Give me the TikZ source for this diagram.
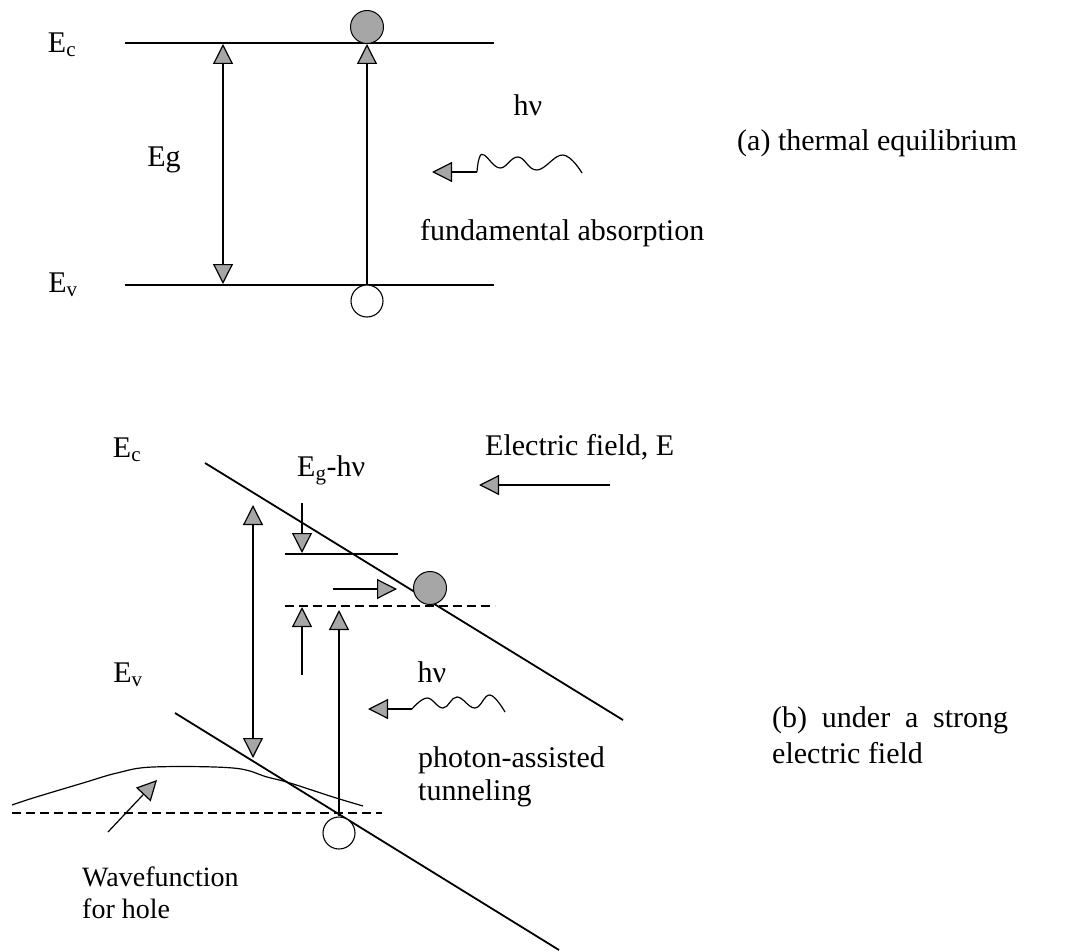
\documentclass[tikz,border=0pt]{standalone}
\usepackage{fontspec}
\setmainfont{Liberation Serif}
\usetikzlibrary{arrows.meta}
\tikzset{
  band/.style={line width=1.8pt, black},
  thin/.style={line width=1.2pt, black},
  tri/.style={-{Triangle[width=20pt,length=20pt,fill=gray!70]}},
  dtri/.style={{Triangle[width=20pt,length=20pt,fill=gray!70]}-{Triangle[width=20pt,length=20pt,fill=gray!70]}},
  txt/.style={font=\fontsize{30}{34}\selectfont, inner sep=0pt},
  stxt/.style={font=\fontsize{28}{32}\selectfont, inner sep=0pt},
  elec/.style={circle, draw=black, line width=1pt, fill=gray!70, minimum size=33pt, inner sep=0pt},
  hole/.style={circle, draw=black, line width=1.1pt, fill=white, minimum size=32pt, inner sep=0pt},
  dashline/.style={line width=1.2pt, dash pattern=on 9pt off 5pt}
}
\begin{document}
\begin{tikzpicture}[x=1pt,y=-1pt]
\useasboundingbox (0,0) rectangle (1073,952);
% ---------------- (a) ----------------
\coordinate (ecL) at (125,43);  \coordinate (ecR) at (494,43);
\coordinate (evL) at (125,285); \coordinate (evR) at (494,285);
\draw[band] (ecL) -- (ecR);
\draw[band] (evL) -- (evR);
\node[txt] (lEc) at (62,45) {E\textsubscript{c}};
\node[txt] (lEv) at (63,285) {E\textsubscript{v}};
\coordinate (egT) at (223,44); \coordinate (egB) at (223,284);
\draw[thin,dtri] (egB) -- (egT);
\node[txt] (lEg) at (164,160) {Eg};
\node[elec] (e1) at (367,27) {};
\node[hole] (h1) at (367,301) {};
\draw[thin,tri] (h1.north) -- (e1.south);
\node[txt] (hv1) at (528,105) {hν};
\coordinate (w1tip) at (432,172);
\draw[thin,tri] (477,172) -- (w1tip);
\draw[thin] plot[smooth, tension=0.7] coordinates {(477,172) (479,159) (484,155) (500,168) (518,157) (537,170) (563,155) (582,173)};
\node[txt, anchor=west] (fa) at (420,233) {fundamental absorption};
\node[txt, anchor=west] (capa) at (737,143) {(a) thermal equilibrium};
% ---------------- (b) ----------------
\node[txt] (lEc2) at (127,450) {E\textsubscript{c}};
\node[txt] (lEv2) at (128,675) {E\textsubscript{v}};
\coordinate (c1) at (205,463); \coordinate (c2) at (623,720);
\coordinate (v1) at (175,713); \coordinate (v2) at (559,950);
\draw[band] (c1) -- (c2);
\draw[band] (v1) -- (v2);
\node[txt, anchor=west] (egh) at (297,470) {E\textsubscript{g}-hν};
\node[txt, anchor=west] (ef) at (485,447) {Electric field, E};
\coordinate (efR) at (610,485); \coordinate (efL) at (479,485);
\draw[thin,tri] (efR) -- (efL);
\coordinate (dT) at (253,505); \coordinate (dB) at (253,758);
\draw[thin,dtri] (dB) -- (dT);
\coordinate (sdT) at (302,503); \coordinate (sdB) at (302,553);
\draw[thin,tri] (sdT) -- (sdB);
\coordinate (hlL) at (285,554); \coordinate (hlR) at (398,554);
\draw[thin] (hlL) -- (hlR);
\coordinate (haL) at (333,589); \coordinate (haR) at (397,589);
\draw[thin,tri] (haL) -- (haR);
\node[elec] (e2) at (430,588) {};
\coordinate (dlL) at (285,606); \coordinate (dlR) at (495,606);
\draw[dashline] (dlL) -- (dlR);
\coordinate (suB) at (302,675); \coordinate (suT) at (302,607);
\draw[thin,tri] (suB) -- (suT);
\node[hole] (h2) at (339,833) {};
\coordinate (abT) at (339,610);
\draw[thin,tri] (h2.north) -- (abT);
\node[txt] (hv2) at (432,672) {hν};
\coordinate (w2tip) at (368,709);
\draw[thin,tri] (412,709) -- (w2tip);
\draw[thin] plot[smooth, tension=0.7] coordinates {(412,709) (427,698) (443,708) (457,697) (475,708) (490,695) (505,712)};
\node[txt, anchor=west] (pa1) at (418,760) {photon-assisted};
\node[txt, anchor=west] (pa2) at (418,793) {tunneling};
\node[txt, anchor=west] (capb1) at (772,720) {\makebox[236pt][s]{(b) under a strong}};
\node[txt, anchor=west] (capb2) at (772,753) {electric field};
\coordinate (dl2L) at (12,813); \coordinate (dl2R) at (382,813);
\draw[dashline] (dl2L) -- (dl2R);
\draw[thin] plot[smooth, tension=0.6] coordinates {(12,805) (33,798) (83,783) (117,773) (153,767) (233,768) (267,777) (290,783) (333,797) (363,806)};
\coordinate (wfS) at (108,832); \coordinate (wfT) at (157,780);
\draw[thin,tri] (wfS) -- (wfT);
\node[stxt, anchor=west] (wf1) at (82,877) {Wavefunction};
\node[stxt, anchor=west] (wf2) at (82,909) {for hole};
\end{tikzpicture}
\end{document}
